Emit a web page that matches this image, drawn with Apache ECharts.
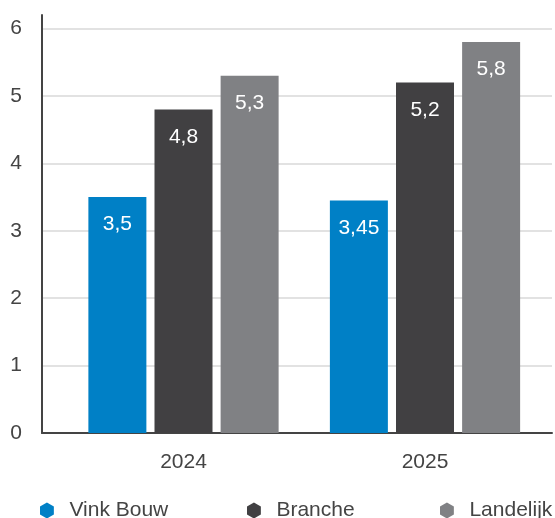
<!DOCTYPE html>
<html>
<head>
<meta charset="utf-8">
<script src="https://cdn.jsdelivr.net/npm/echarts@6/dist/echarts.min.js"></script>
<style>
html,body{margin:0;padding:0;background:#fff;}
#chart{width:555px;height:518px;}
</style>
</head>
<body>
<div id="chart"></div>
<script>
var categories = ['2024', '2025'];
var seriesNames = ['Vink Bouw', 'Branche', 'Landelijk'];
var vinkBouw = [3.5, 3.45];
var branche = [4.8, 5.2];
var landelijk = [5.3, 5.8];
var yTicks = [0, 1, 2, 3, 4, 5, 6];

var colors = ['#0080C6', '#414042', '#808184'];
var font = '"Liberation Sans", Arial, Helvetica, sans-serif';
var hex = 'path://M50,0 L93.3,25 L93.3,75 L50,100 L6.7,75 L6.7,25 Z';

var chart = echarts.init(document.getElementById('chart'), null, {renderer: 'canvas'});

function fmt(v) { return String(v).replace('.', ','); }

var seriesData = [vinkBouw, branche, landelijk];
var series = seriesData.map(function (d, i) {
  return {
    name: seriesNames[i],
    type: 'bar',
    xAxisIndex: 1,
    yAxisIndex: 1,
    data: d,
    barWidth: 58,
    barGap: '14%',
    itemStyle: {color: colors[i]},
    label: {
      show: true,
      position: 'insideTop',
      distance: 17,
      color: '#ffffff',
      fontSize: 21,
      fontFamily: font,
      formatter: function (p) { return fmt(p.value); }
    }
  };
});

var legendLefts = [40, 247, 440];
var legends = seriesNames.map(function (n, i) {
  return {
    left: legendLefts[i],
    top: 500,
    padding: 0,
    data: [{name: n, icon: hex}],
    itemWidth: 15,
    itemHeight: 16,
    selectedMode: false,
    textStyle: {fontSize: 21, color: '#444444', fontFamily: font, padding: [0, 0, 0, 10]}
  };
});

chart.setOption({
  animation: false,
  color: colors,
  legend: legends,
  grid: [
    {left: 42, right: 3, top: 15, bottom: 85},
    {left: 62.75, width: 483, top: 15, bottom: 85}
  ],
  xAxis: [
    {
      gridIndex: 0,
      type: 'category',
      data: categories,
      axisLine: {show: true, lineStyle: {color: '#444444', width: 2}},
      axisTick: {show: false},
      axisLabel: {show: false},
      splitLine: {show: false}
    },
    {
      gridIndex: 1,
      type: 'category',
      data: categories,
      axisLine: {show: false},
      axisTick: {show: false},
      axisLabel: {show: true, margin: 19, fontSize: 21, color: '#444444', fontFamily: font},
      splitLine: {show: false}
    }
  ],
  yAxis: [
    {
      gridIndex: 0,
      type: 'value',
      min: yTicks[0],
      max: 6.2,
      interval: 1,
      axisLine: {show: true, lineStyle: {color: '#444444', width: 2}},
      axisTick: {show: false},
      axisLabel: {margin: 20, fontSize: 21, color: '#444444', fontFamily: font, showMaxLabel: false},
      splitLine: {show: true, showMaxLine: false, lineStyle: {color: '#e2e2e2', width: 2}}
    },
    {
      gridIndex: 1,
      type: 'value',
      min: yTicks[0],
      max: 6.2,
      interval: 1,
      show: false,
      splitLine: {show: false}
    }
  ],
  series: series
});
</script>
</body>
</html>
